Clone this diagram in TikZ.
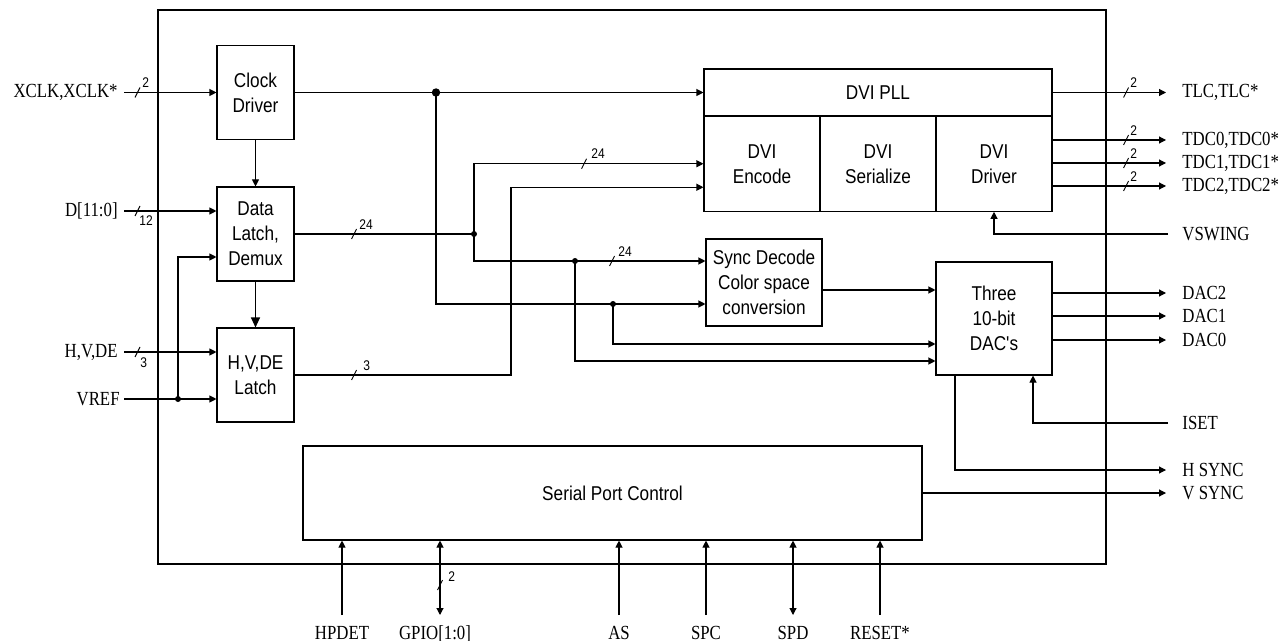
\documentclass[tikz,border=0pt]{standalone}
\usepackage{fontspec}
\setmainfont{Liberation Serif}[FakeStretch=0.84]
\newfontfamily\blkfont{Liberation Sans}[FakeStretch=0.86]
\usetikzlibrary{positioning, arrows.meta}

\tikzset{
  blk/.style={draw, line width=0.55pt, inner sep=0pt, align=center,
    font=\blkfont\fontsize{10}{12.5}\selectfont},
  sig/.style={inner sep=1pt, font=\fontsize{10}{12}\selectfont},
  botsig/.style={sig, text height=6.6pt, text depth=0pt},
  conn/.style={line width=0.55pt},
  wire/.style={conn, -{Triangle[length=3.5pt,width=3.5pt]}},
  bidir/.style={conn, {Triangle[length=3.5pt,width=3.5pt]}-{Triangle[length=3.5pt,width=3.5pt]}},
  jdot/.style={circle, fill, inner sep=0pt, minimum size=3pt},
  bigjdot/.style={jdot, minimum size=4.2pt},
  buslbl/.style={inner sep=0pt, font=\blkfont\fontsize{7}{8}\selectfont},
  bus/.pic={\draw[line width=0.45pt] (-2.5,5) -- (2.5,-5);}
}

\begin{document}
\begin{tikzpicture}[x=0.5pt, y=-0.5pt]
    \useasboundingbox (0,0) rectangle (1288,641);

    % chip outline
    \node[draw, line width=1pt, minimum width=474pt, minimum height=277pt, inner sep=0pt] (chip) at (632,287) {};

    % input blocks
    \node[blk, minimum width=38.5pt, minimum height=47pt] (clk) at (255.5,92.5) {Clock\\Driver};
    \node[blk, minimum width=38.5pt, minimum height=47pt] (dlatch) at (255.5,234) {Data\\Latch,\\Demux};
    \node[blk, minimum width=38.5pt, minimum height=47pt] (hvlatch) at (255.5,375) {H,V,DE\\Latch};

    % DVI transmitter
    \node[blk, minimum width=174pt, minimum height=23.5pt] (pll) at (878,92.5) {DVI PLL};
    \node[blk, minimum width=58pt, minimum height=47.5pt] (enc) at (762,163.75) {DVI\\Encode};
    \node[blk, minimum width=58pt, minimum height=47.5pt] (ser) at (878,163.75) {DVI\\Serialize};
    \node[blk, minimum width=58pt, minimum height=47.5pt] (drv) at (994,163.75) {DVI\\Driver};

    % sync, DACs, serial port
    \node[blk, minimum width=58pt, minimum height=43.5pt] (sync) at (764,282.5) {Sync Decode\\Color space\\conversion};
    \node[blk, minimum width=58pt, minimum height=56.5pt] (dac) at (994,318.5) {Three\\10-bit\\DAC's};
    \node[blk, minimum width=309.5pt, minimum height=47pt] (spc) at (612.5,493) {Serial Port Control};

    % left pins
    \coordinate (xclk) at (124,92.5);
    \coordinate (dat) at (124,211);
    \coordinate (hvde) at (124,352);
    \coordinate (vref) at (124,399);
    \node[sig, left=2pt of xclk] (xclkL) {XCLK,XCLK*};
    \node[sig, left=2pt of dat] (datL) {D[11:0]};
    \node[sig, left=2pt of hvde] (hvdeL) {H,V,DE};
    \node[sig, left=1pt of vref] (vrefL) {VREF};
    \draw[wire] (xclk) -- (xclk -| clk.west);
    \draw[wire] (dat) -- (dat -| dlatch.west);
    \draw[wire] (hvde) -- (hvde -| hvlatch.west);
    \draw[wire] (vref) -- (vref -| hvlatch.west);
    \node[jdot] (jvref) at (178,399) {};
    \draw[wire] (jvref.center) |- ([yshift=-11.5pt]dlatch.west);
    \pic at (137.5,92.5) {bus};
    \node[buslbl, anchor=south west] (bxclk) at (142,88) {2};
    \pic at (137.5,211) {bus};
    \node[buslbl, anchor=north west] (bdat) at (139,215) {12};
    \pic at (137.5,352) {bus};
    \node[buslbl, anchor=north west] (bhvde) at (140,357) {3};

    % clock
    \draw[wire] (clk) -- (dlatch);
    \draw[conn, -{Triangle[length=5pt,width=4.5pt]}] (dlatch) -- (hvlatch);
    \draw[wire] (clk) -- (pll);
    \node[bigjdot] (jclk) at (436,92.5) {};
    \node[jdot] (jclk2) at (613,304) {};
    \draw[wire] (jclk.center) |- (jclk2.center) -- (jclk2 -| sync.west);
    \draw[wire] (jclk2.center) |- ([yshift=-12.75pt]dac.west);

    % data bus
    \node[jdot] (jdat) at (474,234) {};
    \node[jdot] (jdat2) at (575,261) {};
    \draw[conn] (dlatch) -- (jdat.center);
    \draw[wire] (jdat.center) |- (enc.west);
    \draw[wire] (jdat.center) |- (jdat2.center) -- (jdat2 -| sync.west);
    \draw[wire] (jdat2.center) |- ([yshift=-21.25pt]dac.west);
    \pic at (354,234) {bus};
    \node[buslbl, anchor=south west] (bdat1) at (359,230) {24};
    \pic at (584,163.75) {bus};
    \node[buslbl, anchor=south west] (bdat2) at (591,159) {24};
    \pic at (612,261) {bus};
    \node[buslbl, anchor=south west] (bdat3) at (618,257) {24};

    % H,V,DE
    \coordinate (hvbend) at (511,375);
    \draw[wire] (hvlatch) -- (hvbend) |- ([yshift=-11.75pt]enc.west);
    \pic at (354,375) {bus};
    \node[buslbl, anchor=south west] (bhv) at (363,371) {3};

    % sync to DACs
    \coordinate (syncout) at ([yshift=-3.75pt]sync.east);
    \draw[wire] (syncout) -- (syncout -| dac.west);

    % right pins
    \coordinate (tlc) at (1166,92.5);
    \coordinate (tdc0) at (1166,140);
    \coordinate (tdc1) at (1166,163);
    \coordinate (tdc2) at (1166,186);
    \draw[wire] (pll) -- (tlc);
    \draw[wire] (tdc0 -| drv.east) -- (tdc0);
    \draw[wire] (tdc1 -| drv.east) -- (tdc1);
    \draw[wire] (tdc2 -| drv.east) -- (tdc2);
    \node[sig, right=7pt of tlc] (tlcL) {TLC,TLC*};
    \node[sig, right=7pt of tdc0] (tdc0L) {TDC0,TDC0*};
    \node[sig, right=7pt of tdc1] (tdc1L) {TDC1,TDC1*};
    \node[sig, right=7pt of tdc2] (tdc2L) {TDC2,TDC2*};
    \pic at (1126,92.5) {bus};
    \node[buslbl, anchor=south west] (btlc) at (1130,88) {2};
    \pic at (1126,140) {bus};
    \node[buslbl, anchor=south west] (btdc0) at (1130,135.5) {2};
    \pic at (1126,163) {bus};
    \node[buslbl, anchor=south west] (btdc1) at (1130,158.5) {2};
    \pic at (1126,186) {bus};
    \node[buslbl, anchor=south west] (btdc2) at (1130,181.5) {2};

    \coordinate (vswing) at (1168,234);
    \draw[wire] (vswing) -| (drv.south);
    \node[sig, right=6pt of vswing] (vswingL) {VSWING};

    \coordinate (dac2) at (1166,293);
    \coordinate (dac1) at (1166,316);
    \coordinate (dac0) at (1166,340);
    \draw[wire] (dac2 -| dac.east) -- (dac2);
    \draw[wire] (dac1 -| dac.east) -- (dac1);
    \draw[wire] (dac0 -| dac.east) -- (dac0);
    \node[sig, right=7pt of dac2] (dac2L) {DAC2};
    \node[sig, right=7pt of dac1] (dac1L) {DAC1};
    \node[sig, right=7pt of dac0] (dac0L) {DAC0};

    \coordinate (iset) at (1168,423);
    \draw[wire] (iset) -| ([xshift=19.5pt]dac.south);
    \node[sig, right=6pt of iset] (isetL) {ISET};

    \coordinate (hsync) at (1166,470);
    \coordinate (vsync) at (1166,493);
    \draw[wire] ([xshift=-19.5pt]dac.south) |- (hsync);
    \draw[wire] (spc) -- (vsync);
    \node[sig, right=7pt of hsync] (hsyncL) {H SYNC};
    \node[sig, right=7pt of vsync] (vsyncL) {V SYNC};

    % bottom pins
    \coordinate (hpdet) at (342,615);
    \coordinate (gpio) at (440,615);
    \coordinate (as) at (619,615);
    \coordinate (spcin) at (706,615);
    \coordinate (spd) at (793,615);
    \coordinate (reset) at (880,615);
    \draw[wire] (hpdet) -- (hpdet |- spc.south);
    \draw[bidir] (gpio) -- (gpio |- spc.south);
    \draw[wire] (as) -- (as |- spc.south);
    \draw[wire] (spcin) -- (spcin |- spc.south);
    \draw[bidir] (spd) -- (spd |- spc.south);
    \draw[wire] (reset) -- (reset |- spc.south);
    \pic at (440,585) {bus};
    \node[buslbl, anchor=south west] (bgpio) at (448,582) {2};
    \node[botsig, below=4.4pt of hpdet] (hpdetL) {HPDET};
    \node[botsig, below=4.4pt of gpio, xshift=-2.5pt] (gpioL) {GPIO[1:0]};
    \node[botsig, below=4.4pt of as] (asL) {AS};
    \node[botsig, below=4.4pt of spcin] (spcL) {SPC};
    \node[botsig, below=4.4pt of spd] (spdL) {SPD};
    \node[botsig, below=4.4pt of reset] (resetL) {RESET*};
  \end{tikzpicture}
\end{document}
